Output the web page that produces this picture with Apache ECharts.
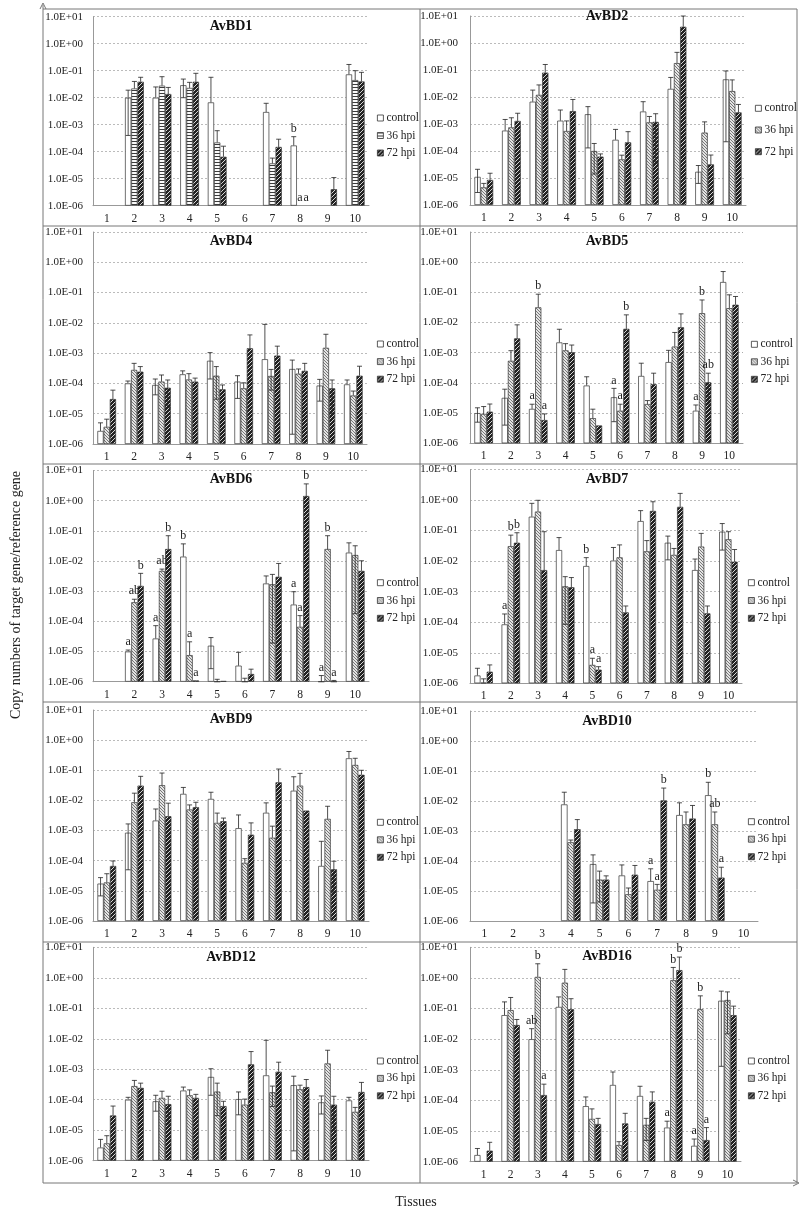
<!DOCTYPE html>
<html><head><meta charset="utf-8">
<script src="https://cdn.jsdelivr.net/npm/echarts@6/dist/echarts.min.js"></script>
<style>html,body{margin:0;padding:0;background:#fff}#c{width:800px;height:1230px}</style>
</head><body><div id="c"></div>
<script>
// ---------- categories / names ----------
const tissues = ['1','2','3','4','5','6','7','8','9','10'];
const seriesNames = ['control', '36 hpi', '72 hpi'];
const panelNames = ['AvBD1','AvBD2','AvBD4','AvBD5','AvBD6','AvBD7','AvBD9','AvBD10','AvBD12','AvBD16'];
const yAxisTitle = 'Copy numbers of target gene/reference gene';
const xAxisTitle = 'Tissues';

// ---------- data: each bar = [mean, lower whisker (or null), upper whisker (or null)] ----------
const AvBD1_control = [null,[1e-2,4e-4,1.9e-2],[1e-2,null,2.5e-2],[2.9e-2,1e-2,4.9e-2],[6.7e-3,null,5.7e-2],null,[2.95e-3,null,6.2e-3],[1.7e-4,null,3.6e-4],null,[7.3e-2,null,0.17]];
const AvBD1_h36 = [null,[2.2e-2,null,4e-2],[2.8e-2,null,6e-2],[2.3e-2,null,3.7e-2],[2.2e-4,null,6e-4],null,[3.7e-5,null,5.8e-5],null,null,[4.5e-2,null,0.1]];
const AvBD1_h72 = [null,[3.9e-2,null,5.7e-2],[1.37e-2,null,2.4e-2],[3.9e-2,null,8e-2],[6.5e-5,null,1.6e-4],null,[1.5e-4,null,2.9e-4],null,[4.1e-6,null,1.1e-5],[4e-2,null,8.7e-2]];
const AvBD1_letters = [[7,0,'b'],[7,1,'a'],[7,2,'a']];

const AvBD2_control = [[1.1e-5,2.9e-6,2.1e-5],[5.7e-4,null,1.47e-3],[6.7e-3,null,1.8e-2],[1.33e-3,null,3.3e-3],[2.3e-3,1.3e-4,4.4e-3],[2.6e-4,null,6.3e-4],[2.9e-3,null,6.7e-3],[2e-2,null,5.3e-2],[1.7e-5,6.3e-6,2.9e-5],[4.5e-2,2.2e-4,9.2e-2]];
const AvBD2_h36 = [[4.5e-6,null,6.3e-6],[7.5e-4,null,1.7e-3],[1.2e-2,null,2.8e-2],[5.5e-4,null,1.3e-3],[1e-4,1.4e-5,1.9e-4],[4.9e-5,null,7e-5],[1.15e-3,null,1.9e-3],[0.18,null,0.45],[4.8e-4,null,1.2e-3],[1.66e-2,null,4.3e-2]];
const AvBD2_h72 = [[8.5e-6,null,1.5e-5],[1.3e-3,null,2.5e-3],[8e-2,null,0.16],[3e-3,null,8.1e-3],[6.2e-5,null,7.8e-5],[2.1e-4,null,5.2e-4],[1.2e-3,3.5e-5,2.4e-3],[4.0,null,10],[3.2e-5,null,7.1e-5],[2.7e-3,null,5.3e-3]];
const AvBD2_letters = [];

const AvBD4_control = [[2.7e-6,null,5e-6],[1e-4,null,1.2e-4],[8.9e-5,4.2e-5,1.4e-4],[2e-4,null,2.6e-4],[5.6e-4,1.4e-4,1.04e-3],[1.15e-4,3.2e-5,1.8e-4],[6.3e-4,null,8.9e-3],[3e-4,2.1e-6,5.9e-4],[8.5e-5,2.6e-5,1.36e-4],[9.3e-5,null,1.3e-4]];
const AvBD4_h36 = [[3.7e-6,null,6.6e-6],[2.8e-4,null,4.6e-4],[1.15e-4,null,1.9e-4],[1.35e-4,null,2.1e-4],[1.8e-4,3e-5,3.6e-4],[6.9e-5,null,1.05e-4],[1.76e-4,6e-5,2.9e-4],[2.1e-4,null,3e-4],[1.5e-3,null,4.2e-3],[4e-5,null,5.6e-5]];
const AvBD4_h72 = [[3.05e-5,null,6e-5],[2.45e-4,null,3.6e-4],[7.2e-5,1.6e-5,1.3e-4],[1.15e-4,null,1.5e-4],[6.4e-5,null,8.9e-5],[1.45e-3,null,4e-3],[8.3e-4,null,1.7e-3],[2.6e-4,null,4.6e-4],[6.9e-5,1e-5,1.3e-4],[1.8e-4,null,3.7e-4]];
const AvBD4_letters = [];

const AvBD5_control = [[1e-5,5e-6,1.5e-5],[3.2e-5,4e-6,6.2e-5],[1.38e-5,null,1.97e-5],[2.2e-3,null,6e-3],[8.2e-5,null,1.6e-4],[3.35e-5,5.2e-6,6.6e-5],[1.7e-4,null,4.5e-4],[4.9e-4,null,1.2e-3],[1.2e-5,null,1.86e-5],[0.22,null,0.49]];
const AvBD5_h36 = [[9.4e-6,null,1.65e-5],[5.4e-4,null,1.17e-3],[3.2e-2,null,8.7e-2],[1.2e-3,null,2e-3],[6.8e-6,null,1.35e-5],[1.2e-5,null,1.97e-5],[2e-5,null,2.6e-5],[1.6e-3,null,4.7e-3],[2.04e-2,null,5.6e-2],[3e-2,null,8.3e-2]];
const AvBD5_h72 = [[1.12e-5,null,2e-5],[3e-3,null,8.4e-3],[5.9e-6,null,9.4e-6],[1.04e-3,null,1.8e-3],[3.9e-6,null,null],[6.2e-3,null,1.8e-2],[9.1e-5,null,2.1e-4],[7e-3,null,1.94e-2],[1.05e-4,2e-5,2.1e-4],[3.9e-2,null,7.3e-2]];
const AvBD5_letters = [[2,0,'a'],[2,1,'b'],[2,2,'a'],[5,0,'a'],[5,1,'a'],[5,2,'b'],[8,0,'a'],[8,1,'b'],[8,2,'ab']];

const AvBD6_control = [null,[1e-5,null,1.12e-5],[2.7e-5,null,7.2e-5],[1.4e-2,null,3.7e-2],[1.56e-5,2.7e-6,2.9e-5],[3.4e-6,null,9.4e-6],[1.8e-3,null,3.2e-3],[3.6e-4,null,9.6e-4],[1e-6,null,1.6e-6],[1.9e-2,null,4e-2]];
const AvBD6_h36 = [null,[4.3e-4,null,5.4e-4],[4.7e-3,null,5.4e-3],[7.6e-6,null,2.1e-5],[1e-6,null,1.2e-6],[1e-6,null,1.3e-6],[1.7e-3,1.9e-5,3.6e-3],[6.6e-5,null,1.55e-4],[2.5e-2,null,6.9e-2],[1.58e-2,1.8e-4,3.2e-2]];
const AvBD6_h72 = [null,[1.5e-3,null,3.9e-3],[2.5e-2,null,6.9e-2],[1.1e-6,null,null],[1.05e-6,null,null],[1.8e-6,null,2.6e-6],[3e-3,null,8.3e-3],[1.43,null,3.6],[1e-6,null,1.1e-6],[4.7e-3,null,1.02e-2]];
const AvBD6_letters = [[1,0,'a'],[1,1,'ab'],[1,2,'b'],[2,0,'a'],[2,1,'ab'],[2,2,'b'],[3,0,'b'],[3,1,'a'],[3,2,'a'],[7,0,'a'],[7,1,'a'],[7,2,'b'],[8,0,'a'],[8,1,'b'],[8,2,'a']];

const AvBD7_control = [[1.8e-6,null,3.1e-6],[8.5e-5,null,1.86e-4],[0.285,null,0.78],[2.3e-2,null,5.9e-2],[6.9e-3,null,1.3e-2],[1.04e-2,null,2.8e-2],[0.205,null,0.45],[4e-2,1.1e-2,6.6e-2],[5.1e-3,null,1.17e-2],[9.2e-2,2.3e-2,0.17]];
const AvBD7_h36 = [[1.05e-6,null,1.4e-6],[3.1e-2,null,7.1e-2],[0.42,null,0.98],[1.5e-3,8.5e-5,3.1e-3],[4e-6,null,6.6e-6],[1.33e-2,null,3.4e-2],[2.1e-2,null,4.7e-2],[1.6e-2,null,2.6e-2],[3e-2,null,8.1e-2],[5.2e-2,null,9.2e-2]];
const AvBD7_h72 = [[2.4e-6,null,4e-6],[4e-2,null,8.5e-2],[5.1e-3,null,9.2e-2],[1.4e-3,null,2.9e-3],[2.8e-6,null,3.5e-6],[2.1e-4,null,3.4e-4],[0.44,null,0.88],[0.6,null,1.65],[1.95e-4,null,3.4e-4],[9.6e-3,null,2.4e-2]];
const AvBD7_letters = [[1,0,'a'],[1,1,'b'],[1,2,'b'],[4,0,'b'],[4,1,'a'],[4,2,'a']];

const AvBD9_control = [[1.74e-5,6.8e-6,2.75e-5],[8.5e-4,5e-5,1.66e-3],[2.15e-3,null,5.2e-3],[1.65e-2,null,2.7e-2],[1.12e-2,null,1.87e-2],[1.2e-3,null,3.3e-3],[3.9e-3,null,8.3e-3],[2.1e-2,null,6.1e-2],[6.7e-5,null,4.4e-4],[0.25,null,0.42]];
const AvBD9_h36 = [[1.9e-5,null,3.7e-5],[8.7e-3,null,1.74e-2],[3.2e-2,null,8.1e-2],[5e-3,null,7.1e-3],[1.8e-3,null,3.8e-3],[8.5e-5,null,1.17e-4],[5.8e-4,null,1.4e-3],[3.1e-2,null,7.9e-2],[2.45e-3,null,6.4e-3],[0.15,null,0.25]];
const AvBD9_h72 = [[6.7e-5,null,9.8e-5],[3.1e-2,null,6.3e-2],[3e-3,null,8.1e-3],[6e-3,null,8.7e-3],[2.05e-3,null,2.6e-3],[7.3e-4,null,1.8e-3],[4e-2,null,0.11],[4.6e-3,null,null],[5.2e-5,9e-6,9.6e-5],[7.1e-2,null,0.1]];
const AvBD9_letters = [];

const AvBD10_control = [null,null,null,[7.7e-3,null,1.96e-2],[7.9e-5,4e-6,1.6e-4],[3.3e-5,null,7.4e-5],[2.14e-5,null,5.5e-5],[3.4e-3,null,8.7e-3],[1.56e-2,null,4.2e-2],null];
const AvBD10_h36 = [null,null,null,[4.2e-4,null,5e-4],[2.4e-5,4.3e-6,4.6e-5],[7.8e-6,null,1.26e-5],[1.1e-5,null,1.66e-5],[1.67e-3,null,4.3e-3],[1.67e-3,null,4.3e-3],null];
const AvBD10_h72 = [null,null,null,[1.15e-3,null,2.4e-3],[2.4e-5,null,3.2e-5],[3.5e-5,null,7.1e-5],[1.05e-2,null,2.7e-2],[2.6e-3,null,7.1e-3],[2.8e-5,null,6.2e-5],null];
const AvBD10_letters = [[6,0,'a'],[6,1,'a'],[6,2,'b'],[8,0,'b'],[8,1,'ab'],[8,2,'a']];

const AvBD12_control = [[2.7e-6,null,5e-6],[1e-4,null,1.2e-4],[8.9e-5,4.2e-5,1.4e-4],[2e-4,null,2.6e-4],[5.6e-4,1.4e-4,1.04e-3],[1.05e-4,3.2e-5,1.8e-4],[6.3e-4,null,8.9e-3],[3e-4,2.1e-6,5.9e-4],[8.2e-5,3.4e-5,1.33e-4],[9.5e-5,null,1.2e-4]];
const AvBD12_h36 = [[3.7e-6,null,6.6e-6],[2.8e-4,null,4.3e-4],[1.15e-4,null,1.9e-4],[1.4e-4,null,2.1e-4],[1.85e-4,3e-5,3.5e-4],[6.9e-5,null,1.05e-4],[1.76e-4,6e-5,2.8e-4],[2.2e-4,null,3e-4],[1.55e-3,null,4.2e-3],[4e-5,null,5.6e-5]];
const AvBD12_h72 = [[3.05e-5,null,6.2e-5],[2.45e-4,null,3.5e-4],[7.2e-5,1.6e-5,1.3e-4],[1.15e-4,null,1.5e-4],[6.2e-5,null,8.9e-5],[1.45e-3,null,3.8e-3],[8.3e-4,null,1.7e-3],[2.6e-4,null,4.6e-4],[6.9e-5,1e-5,1.3e-4],[1.8e-4,null,3.7e-4]];
const AvBD12_letters = [];

const AvBD16_control = [[1.65e-6,null,2.7e-6],[6.1e-2,null,0.165],[1e-2,null,2.2e-2],[0.113,null,0.24],[6.5e-5,null,1.3e-4],[3.2e-4,null,8.5e-4],[1.4e-4,null,2.9e-4],[1.3e-5,null,2.1e-5],[3.3e-6,null,5.5e-6],[0.18,1.3e-3,0.37]];
const AvBD16_h36 = [null,[8.9e-2,null,0.23],[1.08,null,2.9],[0.7,null,1.9],[2.5e-5,null,5.3e-5],[3.5e-6,null,4.5e-6],[1.6e-5,4.9e-6,2.6e-5],[0.84,null,2.2],[9.5e-2,null,0.26],[0.19,1.5e-2,0.35]];
const AvBD16_h72 = [[2.3e-6,null,4.3e-6],[2.9e-2,null,4.4e-2],[1.5e-4,null,3.4e-4],[9.5e-2,null,0.21],[1.7e-5,null,2.6e-5],[1.78e-5,null,3.8e-5],[9.1e-5,null,1.9e-4],[1.8,null,4.8],[5.1e-6,null,1.3e-5],[6.1e-2,null,0.12]];
const AvBD16_letters = [[2,0,'ab'],[2,1,'b'],[2,2,'a'],[7,0,'a'],[7,1,'b'],[7,2,'b'],[8,0,'a'],[8,1,'b'],[8,2,'a']];

const panelSeries = [
  [AvBD1_control, AvBD1_h36, AvBD1_h72],
  [AvBD2_control, AvBD2_h36, AvBD2_h72],
  [AvBD4_control, AvBD4_h36, AvBD4_h72],
  [AvBD5_control, AvBD5_h36, AvBD5_h72],
  [AvBD6_control, AvBD6_h36, AvBD6_h72],
  [AvBD7_control, AvBD7_h36, AvBD7_h72],
  [AvBD9_control, AvBD9_h36, AvBD9_h72],
  [AvBD10_control, AvBD10_h36, AvBD10_h72],
  [AvBD12_control, AvBD12_h36, AvBD12_h72],
  [AvBD16_control, AvBD16_h36, AvBD16_h72]
];
const panelLetters = [AvBD1_letters, AvBD2_letters, AvBD4_letters, AvBD5_letters, AvBD6_letters,
  AvBD7_letters, AvBD9_letters, AvBD10_letters, AvBD12_letters, AvBD16_letters];

// ---------- layout (pixels) ----------
// [plotLeft, plotTop, plotRight, plotBottom, titleX, titleY, legendX, legendY, legendStep, yLabelMargin]
const layout = [
  [93,16.7,369,205.7, 231,26, 372,113,17.5,10],
  [470,16,746,205, 607,16.7, 750,103.3,21.7,12],
  [93,232,367,444, 231,241, 372,339,17.6,10],
  [470,232,743,443.3, 607,241, 746,339.3,17.5,12],
  [93,470.5,369,681.7, 231,479, 372,577.7,17.8,10],
  [470,469.5,742,683.3, 607,479.3, 743,577.7,17.8,12],
  [93,710,369,921, 231,719, 372,817.3,17.5,10],
  [470,711,758,921, 607,721, 743,816.7,17.5,12],
  [93,947.3,369,1160.7, 231,957.3, 372,1056,17.4,10],
  [470,947.3,741,1161.7, 607,956, 743,1056,17.4,12]
];
const FONT = '"Liberation Serif", "Times New Roman", serif';

function makePattern(kind) {
  const n = kind === 'd' ? 4 : 3;
  const c = document.createElement('canvas');
  c.width = n; c.height = n;
  const ctx = c.getContext('2d');
  const img = ctx.createImageData(n, n);
  for (let y = 0; y < n; y++) for (let x = 0; x < n; x++) {
    let g;
    if (kind === 'd') g = ((x + y) % n === 0) ? 215 : 35;
    else if (kind === 'l') g = (((x - y) % n + n) % n === 0) ? 120 : 228;
    else g = (y % 3 === 0) ? 60 : 250;
    const o = (y * n + x) * 4;
    img.data[o] = img.data[o + 1] = img.data[o + 2] = g; img.data[o + 3] = 255;
  }
  ctx.putImageData(img, 0, 0);
  return { image: c, repeat: 'repeat' };
}
const PAT = { d: makePattern('d'), l: makePattern('l'), h: makePattern('h') };

function fmtLog(v) {
  const e = Math.round(Math.log10(v));
  return '1.0E' + (e < 0 ? '-' : '+') + String(Math.abs(e)).padStart(2, '0');
}

const GROUP = 0.68;
const option = { animation: false, backgroundColor: '#fff', grid: [], xAxis: [], yAxis: [], series: [], legend: [], graphic: [] };

panelNames.forEach((name, i) => {
  const L = layout[i];
  option.grid.push({ left: L[0], top: L[1], width: L[2] - L[0], height: L[3] - L[1], containLabel: false });
  option.xAxis.push({
    type: 'category', gridIndex: i, data: tissues,
    axisTick: { show: false }, splitLine: { show: false },
    axisLine: { lineStyle: { color: '#999', width: 1 } },
    axisLabel: { margin: 7, fontSize: 11.5, color: '#222', fontFamily: FONT }
  });
  option.yAxis.push({
    type: 'log', gridIndex: i, logBase: 10, min: 1e-6, max: 10, splitNumber: 7, startValue: 1e-6,
    axisLine: { show: true, lineStyle: { color: '#999', width: 1 } },
    axisTick: { show: false },
    splitLine: { show: true, lineStyle: { color: '#aaa', type: [2, 2], width: 0.8 } },
    axisLabel: { margin: L[9], fontSize: 11, color: '#222', fontFamily: FONT, formatter: fmtLog }
  });
  const fills = ['#fff', i === 0 ? PAT.h : PAT.l, PAT.d];
  panelSeries[i].forEach((arr, k) => {
    option.series.push({
      type: 'bar', name: seriesNames[k], xAxisIndex: i, yAxisIndex: i, silent: true,
      barGap: '0%', barCategoryGap: ((1 - GROUP) * 100) + '%',
      data: arr.map(d => d ? d[0] : null),
      itemStyle: { color: fills[k], borderColor: '#333', borderWidth: 0.7 }
    });
  });
  const errs = [], letters = [];
  panelSeries[i].forEach((arr, k) => arr.forEach((d, c) => {
    if (d && d[2]) errs.push([c, k, d[0], d[1] || 0, d[2]]);
  }));
  panelLetters[i].forEach(([c, k, t]) => {
    const d = panelSeries[i][k][c];
    const y = d ? (d[2] || d[0]) : 1e-6;
    letters.push({ value: [c, k, y], label: t });
  });
  option.series.push({
    type: 'custom', xAxisIndex: i, yAxisIndex: i, silent: true, z: 5, data: errs,
    renderItem: function (params, api) {
      const c = api.value(0), k = api.value(1), v = api.value(2), lo = api.value(3), hi = api.value(4);
      const bw = api.size([1, 1])[0] * GROUP / 3;
      const x = api.coord([c, v])[0] + (k - 1) * bw;
      const yv = api.coord([c, v])[1];
      const yh = api.coord([c, hi])[1];
      const children = [
        { type: 'line', shape: { x1: x, y1: yv, x2: x, y2: yh }, style: { stroke: '#222', lineWidth: 0.8 } },
        { type: 'line', shape: { x1: x - 2.5, y1: yh, x2: x + 2.5, y2: yh }, style: { stroke: '#222', lineWidth: 0.8 } }
      ];
      if (lo > 0) {
        const yl = api.coord([c, lo])[1];
        children.push({ type: 'line', shape: { x1: x, y1: yv, x2: x, y2: yl }, style: { stroke: '#222', lineWidth: 0.8 } });
        children.push({ type: 'line', shape: { x1: x - 2.5, y1: yl, x2: x + 2.5, y2: yl }, style: { stroke: '#222', lineWidth: 0.8 } });
      }
      return { type: 'group', children: children };
    }
  });
  option.series.push({
    type: 'custom', xAxisIndex: i, yAxisIndex: i, silent: true, z: 6, data: letters,
    renderItem: function (params, api) {
      const c = api.value(0), k = api.value(1), y = api.value(2);
      const bw = api.size([1, 1])[0] * GROUP / 3;
      const p = api.coord([c, y]);
      const t = letters[params.dataIndex].label;
      return { type: 'text', style: { text: t, x: p[0] + (k - 1) * bw, y: p[1] - 8, align: 'center', verticalAlign: 'middle', fontSize: 12, fontFamily: FONT, fill: '#222' } };
    }
  });
  option.legend.push({
    left: L[6], top: L[7] - 6, orient: 'vertical', icon: 'rect', itemWidth: 6, itemHeight: 6,
    itemGap: L[8] - 12, selectedMode: false,
    textStyle: { fontSize: 11.5, lineHeight: 12, fontFamily: FONT, color: '#222', padding: [0, 0, 0, -2] },
    data: [
      { name: 'control', itemStyle: { color: '#fff', borderColor: '#333', borderWidth: 0.8 } },
      { name: '36 hpi', itemStyle: { color: fills[1], borderColor: '#333', borderWidth: 0.8 } },
      { name: '72 hpi', itemStyle: { color: PAT.d, borderColor: '#333', borderWidth: 0.8 } }
    ]
  });
  option.graphic.push({
    type: 'text', x: L[4], y: L[5], z: 10, silent: true,
    style: { text: name, align: 'center', verticalAlign: 'middle', fontSize: 14, fontWeight: 'bold', fontFamily: FONT, fill: '#111' }
  });
});

// frame lines
const FL = 43, FR = 797, FT = 9, FB = 1183, MID = 420;
const frameLines = [[FL, FT, FR, FT], [FL, 5, FL, FB], [FR, FT, FR, FB], [FL, FB, FR, FB], [MID, FT, MID, FB],
  [FL, 226, FR, 226], [FL, 464, FR, 464], [FL, 702, FR, 702], [FL, 942, FR, 942]];
frameLines.forEach(l => option.graphic.push({ type: 'line', silent: true, z: 1, shape: { x1: l[0], y1: l[1], x2: l[2], y2: l[3] }, style: { stroke: '#777', lineWidth: 1 } }));
option.graphic.push({ type: 'polyline', silent: true, shape: { points: [[FL - 3, 9], [FL, 3], [FL + 3, 9]] }, style: { stroke: '#777', fill: null, lineWidth: 1 } });
option.graphic.push({ type: 'polyline', silent: true, shape: { points: [[FR - 4, FB - 3], [FR + 2, FB], [FR - 4, FB + 3]] }, style: { stroke: '#777', fill: null, lineWidth: 1 } });
option.graphic.push({ type: 'text', x: 16, y: 595, rotation: Math.PI / 2, silent: true,
  style: { text: yAxisTitle, align: 'center', verticalAlign: 'middle', fontSize: 14, fontFamily: FONT, fill: '#222' } });
option.graphic.push({ type: 'text', x: 416, y: 1202, silent: true,
  style: { text: xAxisTitle, align: 'center', verticalAlign: 'middle', fontSize: 14, fontFamily: FONT, fill: '#222' } });

const chart = echarts.init(document.getElementById('c'), null, { renderer: 'canvas' });
chart.setOption(option);
</script></body></html>
